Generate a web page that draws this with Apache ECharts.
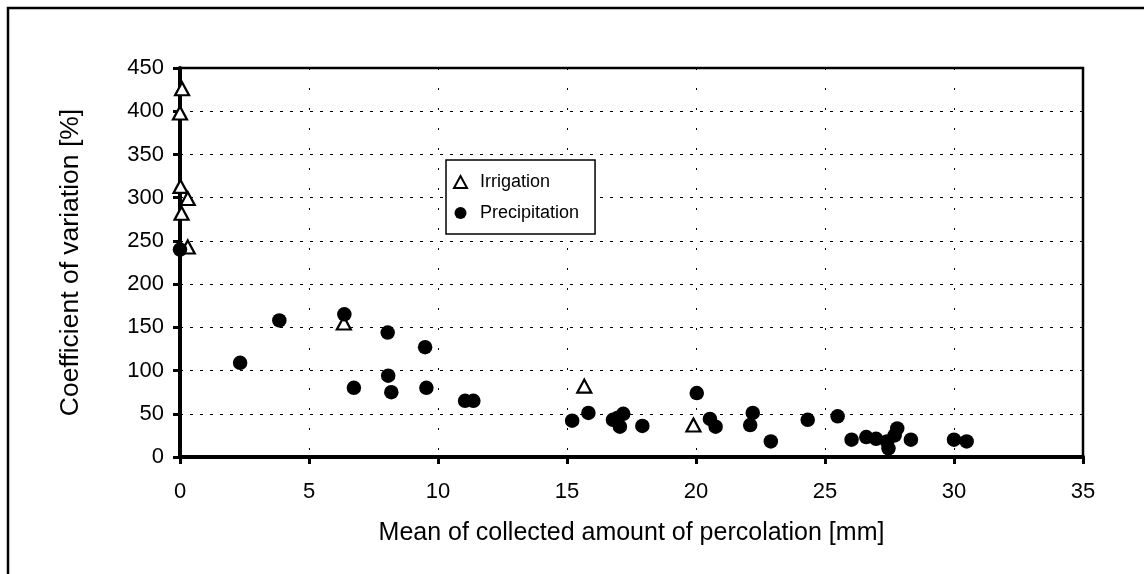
<!DOCTYPE html>
<html>
<head>
<meta charset="utf-8">
<script src="https://cdn.jsdelivr.net/npm/echarts@6/dist/echarts.min.js"></script>
<style>
  html, body { margin: 0; padding: 0; background: #fff; }
  #chart { width: 1144px; height: 574px; }
</style>
</head>
<body>
<div id="chart"></div>
<script>
// Mean percolation [mm] and coefficient of variation [%] per sampling event
const irrigationX = [0.08, 0.0, 0.02, 0.3, 0.06, 0.3, 6.35, 15.67, 19.9];
const irrigationY = [426, 398, 313, 299, 282, 243, 155, 82, 37];

const precipitationX = [0.0, 2.33, 3.85, 6.37, 8.05, 9.5, 8.07, 6.74, 8.19, 9.55, 11.05, 11.37,
  15.2, 15.83, 16.78, 16.95, 17.05, 17.18, 17.92, 20.03, 20.54, 20.76, 22.1, 22.2, 22.9, 24.33,
  25.49, 26.03, 26.6, 26.98, 27.4, 27.46, 27.7, 27.8, 28.33, 30.0, 30.49];
const precipitationY = [240, 109, 158, 165, 144, 127, 94, 80, 75, 80, 65, 65,
  42, 51, 43, 45, 35, 50, 36, 74, 44, 35, 37, 51, 18, 43,
  47, 20, 23, 21, 18, 10, 25, 33, 20, 20, 18];

const xTicks = { min: 0, max: 35, step: 5 };
const yTicks = { min: 0, max: 450, step: 50 };

const xTitle = 'Mean of collected amount of percolation [mm]';
const yTitle = 'Coefficient of variation [%]';
const seriesNames = ['Irrigation', 'Precipitation'];

const pairs = (xs, ys) => xs.map((x, i) => [x, ys[i]]);
const font = '"Liberation Sans", Arial, sans-serif';

const chart = echarts.init(document.getElementById('chart'), null, { renderer: 'canvas' });

const axisCommon = {
  axisLine: { show: true, onZero: false, lineStyle: { color: '#000', width: 4 } },
  axisTick: { show: true, inside: false, length: 7, lineStyle: { color: '#000', width: 3 } },
  axisLabel: { color: '#000', fontFamily: font, fontSize: 22 },
  nameLocation: 'middle'
};

chart.setOption({
  animation: false,
  backgroundColor: '#fff',
  graphic: [{
    type: 'rect',
    shape: { x: 8, y: 8, width: 1160, height: 600 },
    style: { fill: 'none', stroke: '#000', lineWidth: 2.5 },
    silent: true
  }],
  grid: {
    left: 180, right: 61, top: 68, bottom: 117,
    show: true, borderColor: '#000', borderWidth: 2.5, backgroundColor: 'transparent'
  },
  legend: {
    orient: 'vertical',
    left: 446, top: 160,
    padding: [13, 16, 12, 7],
    itemGap: 13,
    itemWidth: 13, itemHeight: 12,
    backgroundColor: '#fff',
    borderColor: '#000', borderWidth: 1.5,
    textStyle: { color: '#000', fontFamily: font, fontSize: 18, padding: [0, 0, 0, 8] },
    data: seriesNames
  },
  xAxis: Object.assign({}, axisCommon, {
    type: 'value',
    min: xTicks.min, max: xTicks.max, interval: xTicks.step,
    name: xTitle, nameGap: 64,
    nameTextStyle: { color: '#000', fontFamily: font, fontSize: 25 },
    axisLabel: Object.assign({}, axisCommon.axisLabel, { margin: 24 }),
    splitLine: { show: true, lineStyle: { color: '#000', width: 1, type: [2, 18] } }
  }),
  yAxis: Object.assign({}, axisCommon, {
    type: 'value',
    min: yTicks.min, max: yTicks.max, interval: yTicks.step,
    name: yTitle, nameGap: 96,
    nameTextStyle: { color: '#000', fontFamily: font, fontSize: 26.5 },
    axisLabel: Object.assign({}, axisCommon.axisLabel, { margin: 16 }),
    splitLine: { show: true, lineStyle: { color: '#000', width: 1, type: [3, 7] } }
  }),
  series: [
    {
      name: seriesNames[0],
      type: 'scatter',
      symbol: 'triangle',
      symbolSize: [14, 13],
      itemStyle: { color: '#fff', borderColor: '#000', borderWidth: 2.2, opacity: 1 },
      data: pairs(irrigationX, irrigationY),
      z: 3
    },
    {
      name: seriesNames[1],
      type: 'scatter',
      symbol: 'circle',
      symbolSize: 14.5,
      itemStyle: { color: '#000', opacity: 1 },
      data: pairs(precipitationX, precipitationY),
      z: 4
    }
  ]
});
</script>
</body>
</html>
